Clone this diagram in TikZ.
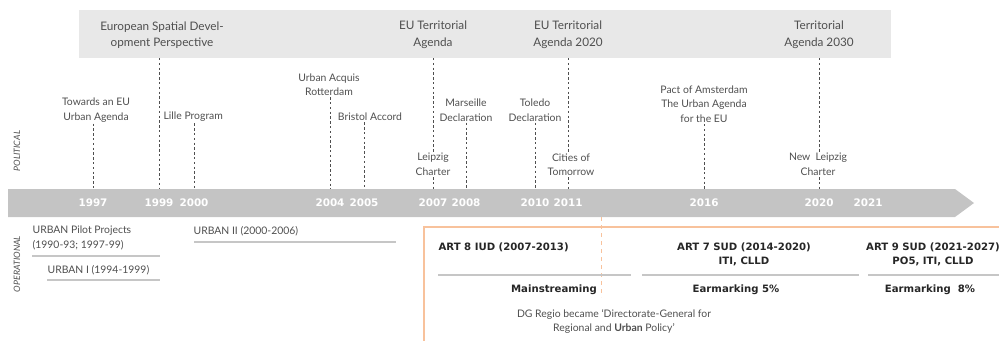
\documentclass[tikz,border=0pt]{standalone}
\usepackage{fontspec}
\setmainfont{Lato}
\newfontfamily\heavyfont{DejaVu Sans}
\usetikzlibrary{calc}
\definecolor{bandgrey}{HTML}{E8E8E8}
\definecolor{bargrey}{HTML}{C4C4C4}
\definecolor{labgrey}{HTML}{4F4F4F}
\definecolor{rulegrey}{HTML}{C6C6C6}
\definecolor{artorange}{HTML}{F8C29C}
\newcommand{\tickdraw}[2]{\draw[tick] (#2 |- #1.south) -- (#2 |- bartop)}
\tikzset{
    lab/.style={text=labgrey, font=\fontsize{7.8}{10.9}\selectfont, align=center, inner sep=1pt},
    bandlab/.style={text=labgrey, font=\fontsize{8.8}{12.4}\selectfont, align=center, inner sep=1pt},
    oplab/.style={lab, align=left, anchor=west},
    year/.style={text=white, font=\heavyfont\fontsize{7.8}{9}\selectfont\bfseries, inner sep=1pt},
    art/.style={text=black!85, font=\heavyfont\fontsize{7.6}{10.5}\selectfont\bfseries, align=center, inner sep=1pt},
    side/.style={text=labgrey, font=\fontsize{6.6}{8}\selectfont\itshape, rotate=90, inner sep=1pt},
    tick/.style={draw=labgrey, dash pattern=on 1.8pt off 1.8pt, line width=0.6pt},
    oprule/.style={draw=rulegrey, line width=1.5pt}
}

\begin{document}
\begin{tikzpicture}[x=0.75pt, y=-0.75pt]
                \useasboundingbox (0,0) rectangle (999,340);

                \fill[bandgrey] (79,10) rectangle (891,58);
                \coordinate (bandbot) at (0,58);
                \fill[bargrey] (8,189) -- (955,189) -- (974,203) -- (955,217) -- (8,217) -- cycle;
                \coordinate (bartop) at (0,189);

                \node[year] (y1997) at (93,203) {1997};
                \node[year] (y1999) at (159,203) {1999};
                \node[year] (y2000) at (194,203) {2000};
                \node[year] (y2004) at (330,203) {2004};
                \node[year] (y2005) at (364,203) {2005};
                \node[year] (y2007) at (433,203) {2007};
                \node[year] (y2008) at (466,203) {2008};
                \node[year] (y2010) at (535,203) {2010};
                \node[year] (y2011) at (568,203) {2011};
                \node[year] (y2016) at (704,203) {2016};
                \node[year] (y2020) at (819,203) {2020};
                \node[year] (y2021) at (868,203) {2021};

                \node[bandlab] (espd) at (162,35) {European Spatial Devel-\\opment Perspective};
                \node[bandlab] (eutera) at (433,35) {EU Territorial\\Agenda};
                \node[bandlab] (eutera20) at (568,35) {EU Territorial\\Agenda 2020};
                \node[bandlab] (tera30) at (819,35) {Territorial\\Agenda 2030};

                \node[lab] (towards) at (96,110) {Towards an EU\\Urban Agenda};
                \node[lab, anchor=west] (lille) at (162,117) {Lille Program};
                \node[lab] (acquis) at (329,84.5) {Urban Acquis\\Rotterdam};
                \node[lab] (bristol) at (370,117) {Bristol Accord};
                \node[lab] (marseille) at (466,110) {Marseille\\Declaration};
                \node[lab] (leipzig) at (433,164.5) {Leipzig\\Charter};
                \node[lab] (toledo) at (535,110) {Toledo\\Declaration};
                \node[lab] (cities) at (571,164.5) {Cities of\\Tomorrow};
                \node[lab] (pact) at (704,104) {Pact of Amsterdam\\The Urban Agenda\\for the EU};
                \node[lab] (newleipzig) at (818,164.5) {New\ \ Leipzig\\Charter};

                \draw[tick] (y1999 |- bandbot) -- (y1999 |- bartop);
                \draw[tick] (y2007 |- bandbot) -- (y2007 |- leipzig.north);
                \draw[tick] (y2011 |- bandbot) -- (y2011 |- cities.north);
                \draw[tick] (y2020 |- bandbot) -- (y2020 |- newleipzig.north);
                \tickdraw{towards}{y1997};
                \tickdraw{lille}{y2000};
                \tickdraw{acquis}{y2004};
                \tickdraw{bristol}{y2005};
                \tickdraw{leipzig}{y2007};
                \tickdraw{marseille}{y2008};
                \tickdraw{toledo}{y2010};
                \tickdraw{cities}{y2011};
                \tickdraw{pact}{y2016};
                \tickdraw{newleipzig}{y2020};

                \node[side] (political) at (17,151) {POLITICAL};
                \node[side] (operational) at (17,264) {OPERATIONAL};

                \node[oplab] (pilot) at (31,238) {URBAN Pilot Projects\\(1990-93; 1997-99)};
                \node[oplab] (urban1) at (46,270) {URBAN I (1994-1999)};
                \node[oplab] (urban2) at (192,231) {URBAN II (2000-2006)};
                \draw[oprule] (32,256) -- (160,256);
                \draw[oprule] (47,280) -- (160,280);
                \draw[oprule] (194,242) -- (396,242);

                \draw[artorange, line width=1.3pt] (424,341) -- (424,227) -- (1000,227);
                \draw[artorange, dash pattern=on 3pt off 3pt, line width=0.7pt] (601,217) -- (601,297);

                \node[art, anchor=west] (art8) at (437,247) {ART 8 IUD (2007-2013)};
                \node[art] (art7) at (744,254) {ART 7 SUD (2014-2020)\\ITI, CLLD};
                \node[art] (art9) at (933,254) {ART 9 SUD (2021-2027)\\PO5, ITI, CLLD};
                \draw[oprule] (438,275) -- (631,275);
                \draw[oprule] (642,275) -- (859,275);
                \draw[oprule] (868,275) -- (1000,275);
                \node[art] (mainstr) at (554,290) {Mainstreaming};
                \node[art] (earm5) at (736,290) {Earmarking 5\%};
                \node[art] (earm8) at (930,290) {Earmarking\ \ 8\%};
                \node[lab] (dgregio) at (614,321.5) {DG Regio became ‘Directorate-General for\\Regional and \textbf{Urban} Policy’};
            \end{tikzpicture}
\end{document}
